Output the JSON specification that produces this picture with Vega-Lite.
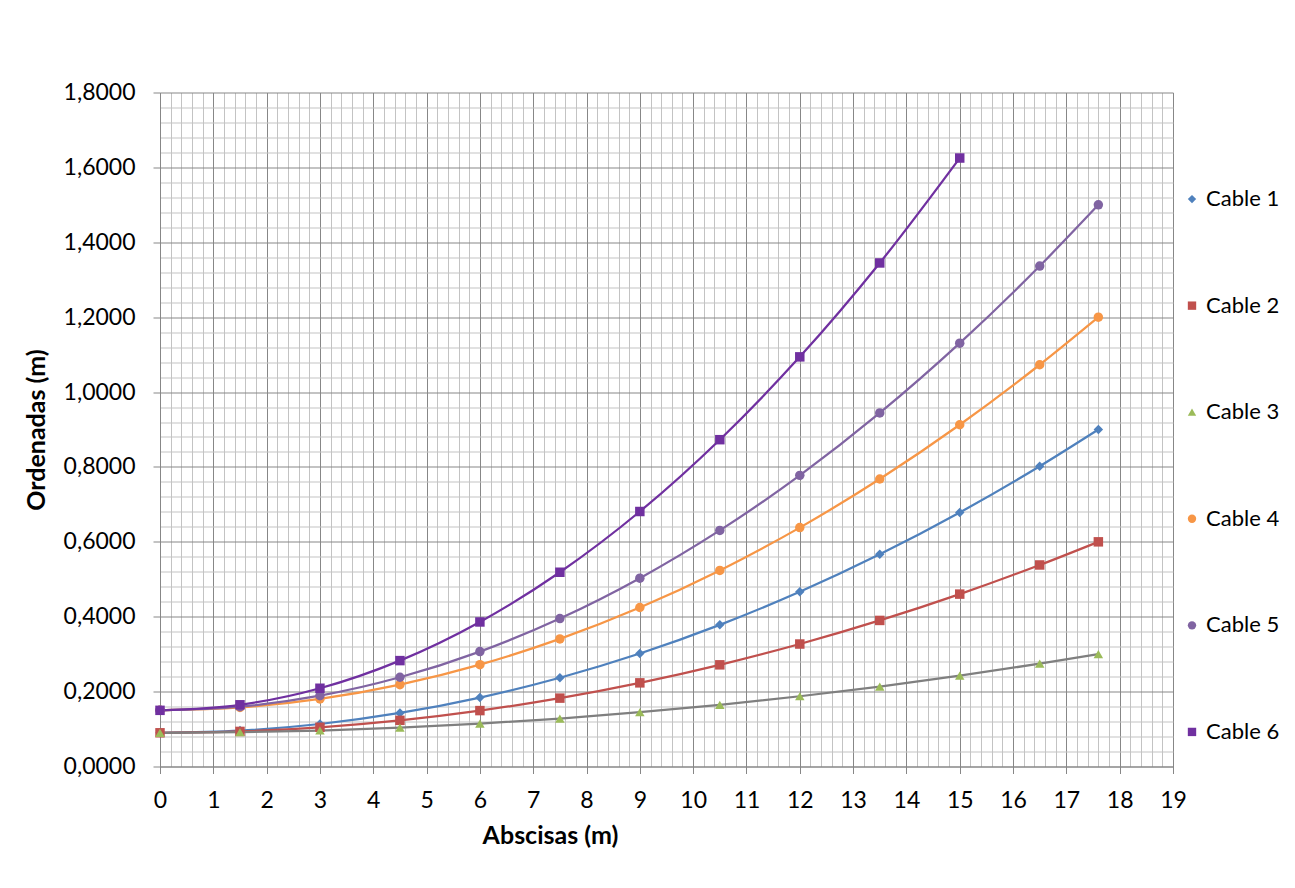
{
  "$schema": "https://vega.github.io/schema/vega-lite/v6.json",
  "padding": {"left": 24, "top": 81.5, "right": 0, "bottom": 0},
  "background": "white",
  "spacing": 0,
  "config": {"font": "Lato", "view": {"stroke": null}},
  "datasets": {
    "legendItems": [
      {"cable": "Cable 1"}, {"cable": "Cable 2"}, {"cable": "Cable 3"},
      {"cable": "Cable 4"}, {"cable": "Cable 5"}, {"cable": "Cable 6"}
    ],
    "cables": [
    {"cable": "Cable 1", "x": 0, "y": 0.09},
    {"cable": "Cable 1", "x": 1.5, "y": 0.0959},
    {"cable": "Cable 1", "x": 3, "y": 0.1135},
    {"cable": "Cable 1", "x": 4.5, "y": 0.143},
    {"cable": "Cable 1", "x": 6, "y": 0.1841},
    {"cable": "Cable 1", "x": 7.5, "y": 0.2371},
    {"cable": "Cable 1", "x": 9, "y": 0.3018},
    {"cable": "Cable 1", "x": 10.5, "y": 0.3783},
    {"cable": "Cable 1", "x": 12, "y": 0.4665},
    {"cable": "Cable 1", "x": 13.5, "y": 0.5666},
    {"cable": "Cable 1", "x": 15, "y": 0.6784},
    {"cable": "Cable 1", "x": 16.5, "y": 0.8019},
    {"cable": "Cable 1", "x": 17.6, "y": 0.9},
    {"cable": "Cable 2", "x": 0, "y": 0.09},
    {"cable": "Cable 2", "x": 1.5, "y": 0.0937},
    {"cable": "Cable 2", "x": 3, "y": 0.1048},
    {"cable": "Cable 2", "x": 4.5, "y": 0.1233},
    {"cable": "Cable 2", "x": 6, "y": 0.1493},
    {"cable": "Cable 2", "x": 7.5, "y": 0.1826},
    {"cable": "Cable 2", "x": 9, "y": 0.2234},
    {"cable": "Cable 2", "x": 10.5, "y": 0.2715},
    {"cable": "Cable 2", "x": 12, "y": 0.3271},
    {"cable": "Cable 2", "x": 13.5, "y": 0.3901},
    {"cable": "Cable 2", "x": 15, "y": 0.4604},
    {"cable": "Cable 2", "x": 16.5, "y": 0.5382},
    {"cable": "Cable 2", "x": 17.6, "y": 0.6},
    {"cable": "Cable 3", "x": 0, "y": 0.09},
    {"cable": "Cable 3", "x": 1.5, "y": 0.0915},
    {"cable": "Cable 3", "x": 3, "y": 0.0961},
    {"cable": "Cable 3", "x": 4.5, "y": 0.1037},
    {"cable": "Cable 3", "x": 6, "y": 0.1144},
    {"cable": "Cable 3", "x": 7.5, "y": 0.1281},
    {"cable": "Cable 3", "x": 9, "y": 0.1449},
    {"cable": "Cable 3", "x": 10.5, "y": 0.1647},
    {"cable": "Cable 3", "x": 12, "y": 0.1876},
    {"cable": "Cable 3", "x": 13.5, "y": 0.2136},
    {"cable": "Cable 3", "x": 15, "y": 0.2425},
    {"cable": "Cable 3", "x": 16.5, "y": 0.2746},
    {"cable": "Cable 3", "x": 17.6, "y": 0.3},
    {"cable": "Cable 4", "x": 0, "y": 0.15},
    {"cable": "Cable 4", "x": 1.5, "y": 0.1576},
    {"cable": "Cable 4", "x": 3, "y": 0.1805},
    {"cable": "Cable 4", "x": 4.5, "y": 0.2186},
    {"cable": "Cable 4", "x": 6, "y": 0.272},
    {"cable": "Cable 4", "x": 7.5, "y": 0.3407},
    {"cable": "Cable 4", "x": 9, "y": 0.4246},
    {"cable": "Cable 4", "x": 10.5, "y": 0.5237},
    {"cable": "Cable 4", "x": 12, "y": 0.638},
    {"cable": "Cable 4", "x": 13.5, "y": 0.7678},
    {"cable": "Cable 4", "x": 15, "y": 0.9127},
    {"cable": "Cable 4", "x": 16.5, "y": 1.0729},
    {"cable": "Cable 4", "x": 17.6, "y": 1.2},
    {"cable": "Cable 5", "x": 0, "y": 0.15},
    {"cable": "Cable 5", "x": 1.5, "y": 0.1598},
    {"cable": "Cable 5", "x": 3, "y": 0.1892},
    {"cable": "Cable 5", "x": 4.5, "y": 0.2383},
    {"cable": "Cable 5", "x": 6, "y": 0.3069},
    {"cable": "Cable 5", "x": 7.5, "y": 0.3951},
    {"cable": "Cable 5", "x": 9, "y": 0.503},
    {"cable": "Cable 5", "x": 10.5, "y": 0.6305},
    {"cable": "Cable 5", "x": 12, "y": 0.7775},
    {"cable": "Cable 5", "x": 13.5, "y": 0.9442},
    {"cable": "Cable 5", "x": 15, "y": 1.1306},
    {"cable": "Cable 5", "x": 16.5, "y": 1.3365},
    {"cable": "Cable 5", "x": 17.6, "y": 1.5},
    {"cable": "Cable 6", "x": 0, "y": 0.15},
    {"cable": "Cable 6", "x": 1.5, "y": 0.1648},
    {"cable": "Cable 6", "x": 3, "y": 0.209},
    {"cable": "Cable 6", "x": 4.5, "y": 0.2828},
    {"cable": "Cable 6", "x": 6, "y": 0.386},
    {"cable": "Cable 6", "x": 7.5, "y": 0.5188},
    {"cable": "Cable 6", "x": 9, "y": 0.681},
    {"cable": "Cable 6", "x": 10.5, "y": 0.8728},
    {"cable": "Cable 6", "x": 12, "y": 1.094},
    {"cable": "Cable 6", "x": 13.5, "y": 1.3448},
    {"cable": "Cable 6", "x": 15, "y": 1.625}
  ]},
  "resolve": {"scale": {"x": "independent", "y": "independent", "color": "independent", "shape": "independent"}},
  "hconcat": [
    {
      "width": 1013,
      "height": 674,
      "data": {"name": "cables"},
      "layer": [
        {
          "transform": [{"filter": "datum.cable !== 'Cable 3'"}],
          "mark": {"type": "line", "interpolate": "monotone", "strokeWidth": 2.25},
          "encoding": {
            "x": {"field": "x", "type": "quantitative",
              "scale": {"domain": [0, 19], "nice": false, "zero": false},
              "axis": {"title": "Abscisas (m)", "tickCount": 1000,
                "values": [0,0.2,0.4,0.6,0.8,1,1.2,1.4,1.6,1.8,2,2.2,2.4,2.6,2.8,3,3.2,3.4,3.6,3.8,4,4.2,4.4,4.6,4.8,5,5.2,5.4,5.6,5.8,6,6.2,6.4,6.6,6.8,7,7.2,7.4,7.6,7.8,8,8.2,8.4,8.6,8.8,9,9.2,9.4,9.6,9.8,10,10.2,10.4,10.6,10.8,11,11.2,11.4,11.6,11.8,12,12.2,12.4,12.6,12.8,13,13.2,13.4,13.6,13.8,14,14.2,14.4,14.6,14.8,15,15.2,15.4,15.6,15.8,16,16.2,16.4,16.6,16.8,17,17.2,17.4,17.6,17.8,18,18.2,18.4,18.6,18.8,19],
                "labelExpr": "abs(datum.value - round(datum.value)) < 0.001 ? format(datum.value, 'd') : ''",
                "grid": true, "gridWidth": 1,
                "gridColor": {"condition": {"test": "abs(datum.value - round(datum.value)) < 0.001", "value": "#878787"}, "value": "#c3c3c3"},
                "tickOpacity": {"condition": {"test": "abs(datum.value - round(datum.value)) < 0.001", "value": 1}, "value": 0},
                "domainColor": "#878787", "domainWidth": 1, "tickColor": "#878787", "tickSize": 7,
                "labelFontSize": 23, "labelColor": "#000000", "labelPadding": 16, "labelFlush": false, "labelOverlap": false, "labelBound": false,
                "titleFontSize": 25, "titleFontWeight": "bold", "titleColor": "#000000", "titlePadding": 11,
                "titleX": 390, "titleAlign": "center", "titleAnchor": null}},
            "y": {"field": "y", "type": "quantitative",
              "scale": {"domain": [0, 1.8], "nice": false},
              "axis": {"title": "Ordenadas (m)", "tickCount": 1000,
                "values": [0,0.04,0.08,0.12,0.16,0.2,0.24,0.28,0.32,0.36,0.4,0.44,0.48,0.52,0.56,0.6,0.64,0.68,0.72,0.76,0.8,0.84,0.88,0.92,0.96,1,1.04,1.08,1.12,1.16,1.2,1.24,1.28,1.32,1.36,1.4,1.44,1.48,1.52,1.56,1.6,1.64,1.68,1.72,1.76,1.8],
                "labelExpr": "abs(datum.value * 5 - round(datum.value * 5)) < 0.001 ? replace(format(datum.value, '.4f'), '.', ',') : ''",
                "grid": true, "gridWidth": 1,
                "gridColor": {"condition": {"test": "abs(datum.value * 5 - round(datum.value * 5)) < 0.001", "value": "#878787"}, "value": "#c3c3c3"},
                "tickOpacity": {"condition": {"test": "abs(datum.value * 5 - round(datum.value * 5)) < 0.001", "value": 1}, "value": 0},
                "domainColor": "#878787", "domainWidth": 1, "tickColor": "#878787", "tickSize": 7,
                "labelFontSize": 23, "labelColor": "#000000", "labelPadding": 18, "labelFlush": false, "labelOverlap": false, "labelBound": false,
                "titleFontSize": 25, "titleFontWeight": "bold", "titleColor": "#000000", "titlePadding": 14}},
            "color": {"field": "cable", "type": "nominal", "legend": null}
          }
        },
        {
          "transform": [{"filter": "datum.cable === 'Cable 3'"}],
          "mark": {"type": "line", "interpolate": "monotone", "strokeWidth": 2.25, "color": "#7F7F7F"},
          "encoding": {
            "x": {"field": "x", "type": "quantitative"},
            "y": {"field": "y", "type": "quantitative"}
          }
        },
        {
          "mark": {"type": "point", "filled": true, "size": 90, "opacity": 1},
          "encoding": {
            "x": {"field": "x", "type": "quantitative"},
            "y": {"field": "y", "type": "quantitative"},
            "color": {"field": "cable", "type": "nominal", "legend": null,
              "scale": {"domain": ["Cable 1","Cable 2","Cable 3","Cable 4","Cable 5","Cable 6"],
                "range": ["#4F81BD","#C0504D","#9BBB59","#F79646","#8064A2","#7030A0"]}},
            "shape": {"field": "cable", "type": "nominal", "legend": null,
              "scale": {"domain": ["Cable 1","Cable 2","Cable 3","Cable 4","Cable 5","Cable 6"],
                "range": ["diamond","square","triangle-up","circle","circle","square"]}}
          }
        }
      ]
    },
    {
      "width": 4,
      "height": 746,
      "data": {"name": "legendItems"},
      "layer": [
        {
          "mark": {"type": "point", "filled": true, "size": 70, "opacity": 1},
          "encoding": {
            "y": {"field": "cable", "type": "nominal", "axis": null,
              "scale": {"type": "point", "padding": 5.24, "domain": ["Cable 1","Cable 2","Cable 3","Cable 4","Cable 5","Cable 6"]}},
            "color": {"field": "cable", "type": "nominal", "legend": null,
              "scale": {"domain": ["Cable 1","Cable 2","Cable 3","Cable 4","Cable 5","Cable 6"],
                "range": ["#4F81BD","#C0504D","#9BBB59","#F79646","#8064A2","#7030A0"]}},
            "shape": {"field": "cable", "type": "nominal", "legend": null,
              "scale": {"domain": ["Cable 1","Cable 2","Cable 3","Cable 4","Cable 5","Cable 6"],
                "range": ["diamond","square","triangle-up","circle","circle","square"]}}
          }
        },
        {
          "mark": {"type": "text", "align": "left", "baseline": "middle", "dx": 14, "fontSize": 22, "font": "Lato", "color": "#000000"},
          "encoding": {
            "y": {"field": "cable", "type": "nominal", "axis": null},
            "text": {"field": "cable", "type": "nominal"}
          }
        }
      ]
    }
  ]
}
